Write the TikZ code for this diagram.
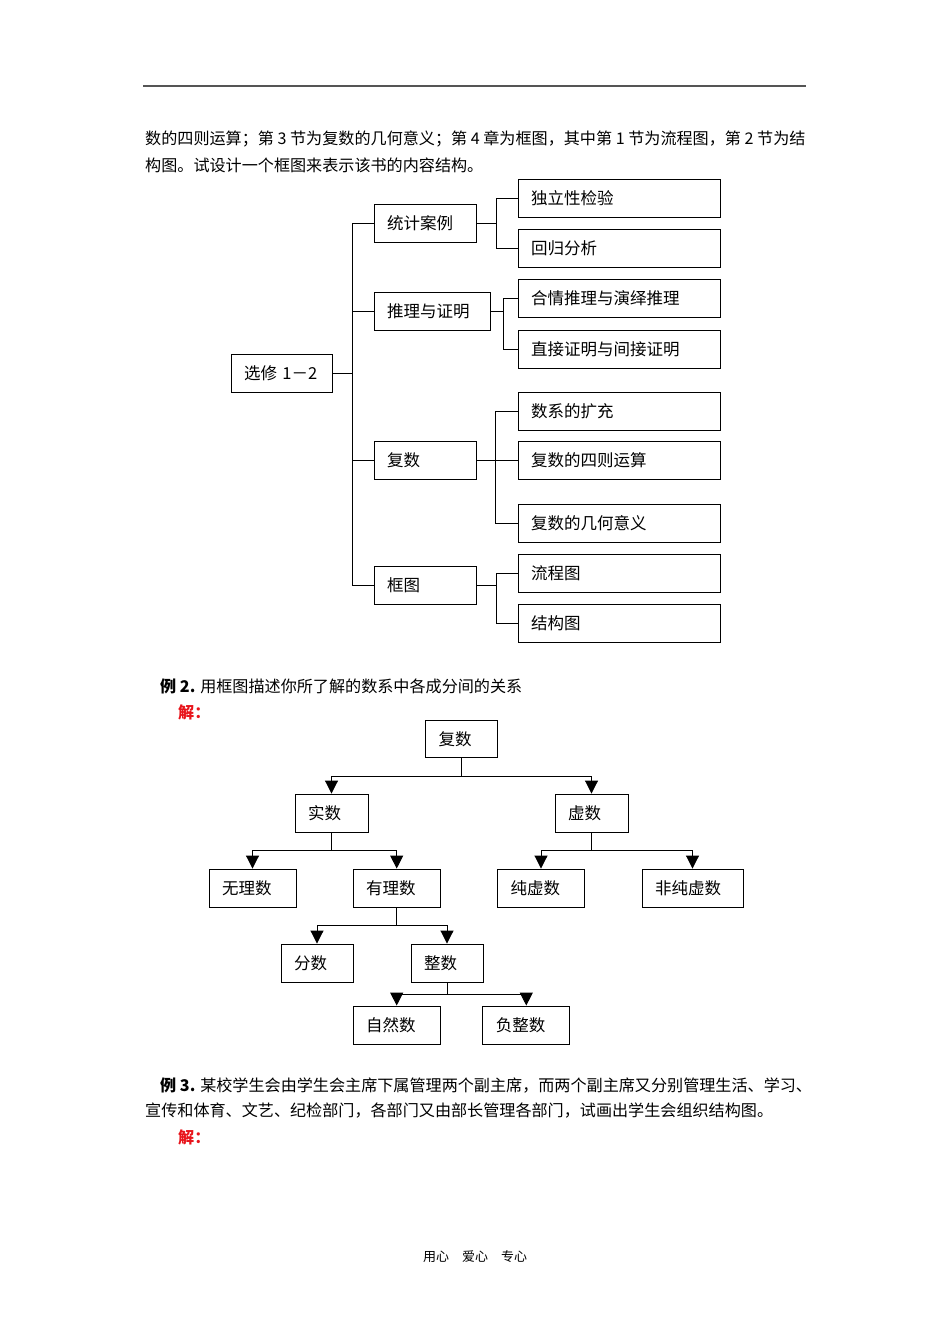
\documentclass[tikz,border=0pt]{standalone}
\usepackage{fontspec}
\setmainfont{Noto Sans CJK SC}
\usetikzlibrary{arrows.meta}
\definecolor{jiered}{HTML}{E8141B}
\definecolor{rulegray}{HTML}{555555}
\tikzset{
  kuang/.style={draw, line width=0.9pt, minimum height=38pt, inner sep=0pt, inner xsep=13pt, text width=#1, align=left},
  lian/.style={line width=0.9pt},
  jian/.style={line width=0.9pt, -{Triangle[length=13pt,width=13pt]}},
  hang/.style={anchor=west, inner sep=0pt, font=\fontsize{16.1}{20}\selectfont}
}

\begin{document}
\begin{tikzpicture}[x=1pt, y=-1pt, font=\fontsize{16.5}{20}\selectfont]
  \useasboundingbox[fill=white] (0,0) rectangle (950,1344);

  % page rule and text
  \draw[rulegray, line width=2pt] (143,86) -- (806,86);
  \node[hang] (duan1) at (145,139) {数的四则运算；第 3 节为复数的几何意义；第 4 章为框图，其中第 1 节为流程图，第 2 节为结};
  \node[hang] (duan2) at (145,165) {构图。试设计一个框图来表示该书的内容结构。};

  % book structure
  \node[kuang=75pt] (xuanxiu) at (281.5,373) {选修 1－2};

  \node[kuang=76pt] (tongji) at (425,223.5) {统计案例};
  \node[kuang=90pt] (tuili) at (432,311) {推理与证明};
  \node[kuang=76pt] (fushu) at (425,460.5) {复数};
  \node[kuang=76pt] (kuangtu) at (425,585.5) {框图};

  \node[kuang=176pt] (duli) at (619,198.5) {独立性检验};
  \node[kuang=176pt] (huigui) at (619,248.5) {回归分析};
  \node[kuang=176pt] (heqing) at (619,298.5) {合情推理与演绎推理};
  \node[kuang=176pt] (zhijie) at (619,349) {直接证明与间接证明};
  \node[kuang=176pt] (kuochong) at (619,411) {数系的扩充};
  \node[kuang=176pt] (yunsuan) at (619,460.5) {复数的四则运算};
  \node[kuang=176pt] (jihe) at (619,523.5) {复数的几何意义};
  \node[kuang=176pt] (liucheng) at (619,573) {流程图};
  \node[kuang=176pt] (jiegou) at (619,623) {结构图};

  \draw[lian] (xuanxiu.east) -- ++(21,0);
  \draw[lian] (tongji.west) -- ++(-21,0) |- (kuangtu.west);
  \draw[lian] (tuili.west) -- ++(-21,0);
  \draw[lian] (fushu.west) -- ++(-21,0);

  \draw[lian] (tongji.east) -- ++(21,0);
  \draw[lian] (duli.west) -- ++(-21,0) |- (huigui.west);
  \draw[lian] (tuili.east) -- ++(14,0);
  \draw[lian] (heqing.west) -- ++(-14,0) |- (zhijie.west);
  \draw[lian] (fushu.east) -- (yunsuan.west);
  \draw[lian] (kuochong.west) -- ++(-22,0) |- (jihe.west);
  \draw[lian] (kuangtu.east) -- ++(21,0);
  \draw[lian] (liucheng.west) -- ++(-21,0) |- (jiegou.west);

  % example 2
  \node[hang] (li2) at (160,686) {\textbf{例 2.} 用框图描述你所了解的数系中各成分间的关系};
  \node[hang, text=jiered] (jie2) at (178,712) {\textbf{解：}};

  \node[kuang=46pt, minimum height=37pt] (fs) at (461.5,739) {复数};
  \node[kuang=47pt] (shishu) at (331.5,813) {实数};
  \node[kuang=47pt] (xushu) at (591.5,813) {虚数};
  \node[kuang=61pt] (wuli) at (252.5,888) {无理数};
  \node[kuang=61pt] (youli) at (396.7,888) {有理数};
  \node[kuang=61pt] (chunxu) at (541,888) {纯虚数};
  \node[kuang=75pt] (feichun) at (692.5,888) {非纯虚数};
  \node[kuang=46pt] (fenshu) at (317,963) {分数};
  \node[kuang=46pt] (zhengshu) at (447,963) {整数};
  \node[kuang=61pt] (ziran) at (396.7,1025) {自然数};
  \node[kuang=61pt] (fuzheng) at (526.3,1025) {负整数};

  \draw[jian] (fs.south) -- ++(0,18.5) -| (shishu.north);
  \draw[jian] (fs.south) -- ++(0,18.5) -| (xushu.north);
  \draw[jian] (shishu.south) -- ++(0,18) -| (wuli.north);
  \draw[jian] (shishu.south) -- ++(0,18) -| (youli.north);
  \draw[jian] (xushu.south) -- ++(0,18) -| (chunxu.north);
  \draw[jian] (xushu.south) -- ++(0,18) -| (feichun.north);
  \draw[jian] (youli.south) -- ++(0,18) -| (fenshu.north);
  \draw[jian] (youli.south) -- ++(0,18) -| (zhengshu.north);
  \draw[jian] (zhengshu.south) -- ++(0,12) -| (ziran.north);
  \draw[jian] (zhengshu.south) -- ++(0,12) -| (fuzheng.north);

  % example 3
  \node[hang] (li3a) at (160,1085) {\textbf{例 3.} 某校学生会由学生会主席下属管理两个副主席，而两个副主席又分别管理生活、学习、};
  \node[hang] (li3b) at (145,1111) {宣传和体育、文艺、纪检部门，各部门又由部长管理各部门，试画出学生会组织结构图。};
  \node[hang, text=jiered] (jie3) at (178,1137) {\textbf{解：}};

  \node[font=\fontsize{13}{16}\selectfont] (yexiao) at (475,1257) {用心\quad 爱心\quad 专心};
\end{tikzpicture}
\end{document}
